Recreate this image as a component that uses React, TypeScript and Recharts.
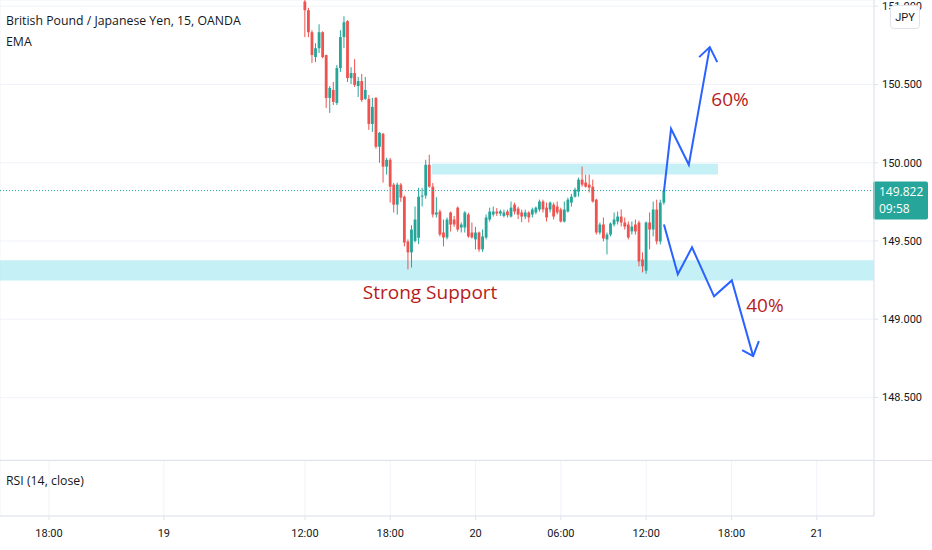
import {
  ComposedChart,
  Bar,
  Line,
  XAxis,
  YAxis,
  CartesianGrid,
  ReferenceArea,
  ReferenceLine,
  ReferenceDot,
} from "recharts";

// 15 min candles of GBP/JPY, index 0 = 19th 12:00
const opens = [
  151.03, 150.975, 150.834, 150.675, 150.732, 150.834, 150.688, 150.414, 150.465, 150.382,
  150.605, 150.803, 150.905, 150.541, 150.573, 150.49, 150.522, 150.408, 150.408, 150.248,
  150.414, 150.102, 150.185, 149.975, 150.019, 149.86, 149.732, 149.86, 149.783, 149.497,
  149.427, 149.5, 149.52, 149.783, 149.79, 149.987, 149.847, 149.669, 149.688, 149.554,
  149.522, 149.682, 149.637, 149.713, 149.586, 149.586, 149.669, 149.554, 149.51, 149.554,
  149.446, 149.522, 149.637, 149.669, 149.688, 149.675, 149.66, 149.688, 149.656, 149.732,
  149.707, 149.682, 149.656, 149.682, 149.669, 149.682, 149.701, 149.752, 149.713, 149.701,
  149.732, 149.72, 149.701, 149.624, 149.688, 149.745, 149.783, 149.815, 149.892, 149.873,
  149.86, 149.847, 149.764, 149.554, 149.605, 149.51, 149.541, 149.605, 149.624, 149.656,
  149.618, 149.605, 149.561, 149.605, 149.618, 149.382, 149.31, 149.618, 149.573, 149.701,
  149.497, 149.745,
];
const highs = [
  151.06, 150.99, 150.847, 150.764, 150.885, 150.84, 150.69, 150.49, 150.516, 150.624,
  150.847, 150.936, 150.911, 150.611, 150.662, 150.548, 150.567, 150.548, 150.433, 150.414,
  150.42, 150.197, 150.19, 150.032, 150.03, 149.87, 149.873, 149.87, 149.79, 149.51,
  149.6, 149.72, 149.84, 149.84, 150.019, 150.051, 149.87, 149.78, 149.7, 149.637,
  149.65, 149.688, 149.66, 149.72, 149.618, 149.69, 149.68, 149.618, 149.59, 149.56,
  149.573, 149.669, 149.713, 149.72, 149.71, 149.7, 149.7, 149.7, 149.752, 149.745,
  149.72, 149.7, 149.7, 149.69, 149.713, 149.72, 149.764, 149.764, 149.745, 149.752,
  149.745, 149.752, 149.713, 149.752, 149.777, 149.8, 149.841, 149.905, 149.975, 149.924,
  149.924, 149.892, 149.77, 149.618, 149.65, 149.554, 149.618, 149.682, 149.688, 149.701,
  149.65, 149.624, 149.624, 149.637, 149.63, 149.427, 149.624, 149.682, 149.752, 149.764,
  149.764, 149.828,
];
const lows = [
  150.803, 150.803, 150.637, 150.643, 150.701, 150.668, 150.35, 150.318, 150.369, 150.369,
  150.58, 150.732, 150.516, 150.503, 150.484, 150.42, 150.389, 150.401, 150.21, 150.197,
  150.09, 150.0, 149.873, 149.924, 149.745, 149.682, 149.669, 149.75, 149.465, 149.318,
  149.33, 149.49, 149.48, 149.72, 149.77, 149.84, 149.65, 149.65, 149.529, 149.465,
  149.51, 149.56, 149.59, 149.56, 149.554, 149.554, 149.52, 149.516, 149.446, 149.43,
  149.43, 149.51, 149.624, 149.656, 149.66, 149.66, 149.65, 149.65, 149.65, 149.669,
  149.64, 149.62, 149.64, 149.618, 149.65, 149.67, 149.688, 149.682, 149.624, 149.682,
  149.637, 149.669, 149.618, 149.618, 149.682, 149.72, 149.777, 149.783, 149.847, 149.841,
  149.81, 149.745, 149.541, 149.541, 149.497, 149.414, 149.529, 149.592, 149.605, 149.592,
  149.573, 149.51, 149.541, 149.541, 149.338, 149.299, 149.29, 149.446, 149.529, 149.478,
  149.478, 149.732,
];
const closes = [
  150.975, 150.834, 150.688, 150.732, 150.834, 150.675, 150.414, 150.478, 150.389, 150.605,
  150.803, 150.898, 150.541, 150.573, 150.497, 150.522, 150.401, 150.465, 150.248, 150.357,
  150.102, 150.191, 149.975, 150.019, 149.847, 149.732, 149.86, 149.777, 149.49, 149.427,
  149.573, 149.637, 149.783, 149.79, 149.987, 149.847, 149.669, 149.682, 149.541, 149.522,
  149.637, 149.605, 149.605, 149.573, 149.605, 149.682, 149.529, 149.522, 149.554, 149.446,
  149.529, 149.65, 149.688, 149.688, 149.675, 149.69, 149.682, 149.665, 149.713, 149.688,
  149.669, 149.656, 149.682, 149.65, 149.701, 149.713, 149.752, 149.701, 149.65, 149.745,
  149.656, 149.682, 149.624, 149.701, 149.764, 149.783, 149.828, 149.892, 149.86, 149.847,
  149.841, 149.752, 149.554, 149.605, 149.516, 149.541, 149.611, 149.637, 149.656, 149.618,
  149.592, 149.522, 149.592, 149.561, 149.369, 149.338, 149.618, 149.573, 149.701, 149.497,
  149.745, 149.822,
];

const lastPrice = 149.822;
const countdown = "09:58";

// time axis (bar index units)
const timeTicks = [-72, -39.7, 0, 24, 48, 72, 96, 120, 144];
const timeLabels = ["18:00", "19", "12:00", "18:00", "20", "06:00", "12:00", "18:00", "21"];
const priceTicks = [148.5, 149, 149.5, 150, 150.5, 151];

// drawings (bar index, price)
const upArrow = [
  { i: 101.0, p: 149.815 },
  { i: 103.0, p: 150.217 },
  { i: 108.0, p: 149.987 },
  { i: 113.9, p: 150.739 },
];
const upHead = [
  { i: 110.9, p: 150.675 },
  { i: 113.9, p: 150.739 },
  { i: 116.0, p: 150.643 },
];
const downArrow = [
  { i: 101.0, p: 149.605 },
  { i: 104.9, p: 149.287 },
  { i: 108.9, p: 149.459 },
  { i: 115.1, p: 149.146 },
  { i: 120.1, p: 149.248 },
  { i: 126.1, p: 148.764 },
];
const downHead = [
  { i: 123.0, p: 148.803 },
  { i: 126.1, p: 148.764 },
  { i: 127.7, p: 148.86 },
];
const resistanceZone = { x1: 35.7, x2: 116.2, y1: 149.924, y2: 149.994 };
const supportZone = { y1: 149.248, y2: 149.376 };

const UP = "#26a69a";
const DOWN = "#ef5350";
const GRID = "#f0f3fa";
const BORDER = "#e0e3eb";
const TEXT = "#131722";
const NOTE = "#b71c1c";
const BLUE = "#2962ff";
const ZONE = "#b2ebf2";
const X_DOMAIN: [number, number] = [-85.8, 160.1];

const candles = opens.map((o, i) => ({
  i,
  o,
  h: highs[i],
  l: lows[i],
  c: closes[i],
  range: [lows[i], highs[i]],
}));

function Candle(props: any) {
  const { x, y, width, height, payload } = props;
  if (!payload) return null;
  const { o, h, l, c } = payload;
  const color = c >= o ? UP : DOWN;
  const top = Math.min(y, y + height);
  const span = Math.abs(height);
  const toY = (v: number) => top + ((h - v) / (h - l || 1)) * span;
  const cx = x + width / 2;
  const bTop = toY(Math.max(o, c));
  const bBot = toY(Math.min(o, c));
  return (
    <g>
      <line x1={cx} x2={cx} y1={top} y2={top + span} stroke={color} strokeWidth={1} />
      <rect x={cx - 1.4} y={bTop} width={2.8} height={Math.max(bBot - bTop, 1)} fill={color} />
    </g>
  );
}

function PriceTag(props: any) {
  const vb = props.viewBox;
  if (!vb) return null;
  const x = vb.x + vb.width - 1;
  const y = vb.y;
  return (
    <g>
      <rect x={x} y={y - 9} width={55} height={38} rx={2} fill={UP} />
      <text x={x + 6} y={y + 5} fill="#fff" fontSize={12}>
        {lastPrice.toFixed(3)}
      </text>
      <text x={x + 6} y={y + 22} fill="#fff" fontSize={12}>
        {countdown}
      </text>
    </g>
  );
}

const tickStyle = { fill: TEXT, fontSize: 11, fontFamily: "Roboto, sans-serif" };
const fmtTime = (v: number) => timeLabels[timeTicks.indexOf(v)] ?? "";
const noteLabel = (value: string) => ({
  value,
  position: "center" as const,
  fill: NOTE,
  fontSize: 19,
  fontWeight: 500,
});

export default function App() {
  const drawings = [upArrow, upHead, downArrow, downHead];
  return (
    <div
      style={{
        position: "absolute",
        left: 0,
        top: 0,
        width: 932,
        height: 550,
        background: "#fff",
        overflow: "hidden",
        fontFamily: "'Open Sans', sans-serif",
      }}
    >
      <ComposedChart width={932} height={460} data={candles} margin={{ top: 0, right: 0, left: 0, bottom: 0 }}>
        <CartesianGrid stroke={GRID} />
        <XAxis
          dataKey="i"
          type="number"
          domain={X_DOMAIN}
          ticks={timeTicks}
          allowDataOverflow
          height={0}
          tick={false}
          axisLine={false}
          tickLine={false}
        />
        <YAxis
          orientation="right"
          width={58}
          domain={[148.1, 151.04]}
          ticks={priceTicks}
          allowDataOverflow
          tickFormatter={(v: number) => v.toFixed(3)}
          tick={tickStyle}
          tickSize={4}
          tickMargin={4}
          stroke={BORDER}
        />
        <ReferenceArea y1={supportZone.y1} y2={supportZone.y2} fill={ZONE} fillOpacity={0.75} stroke="none" />
        <ReferenceArea {...resistanceZone} fill={ZONE} fillOpacity={0.75} stroke="none" />
        <ReferenceLine y={lastPrice} stroke={UP} strokeDasharray="1 2" label={<PriceTag />} />
        <Bar dataKey="range" barSize={3} shape={<Candle />} activeBar={false} isAnimationActive={false} />
        {drawings.map((d, k) => (
          <Line
            key={k}
            data={d}
            dataKey="p"
            type="linear"
            stroke={BLUE}
            strokeWidth={2}
            dot={false}
            activeDot={false}
            isAnimationActive={false}
          />
        ))}
        <ReferenceDot x={35.2} y={149.172} r={0} label={noteLabel("Strong Support")} />
        <ReferenceDot x={119.6} y={150.408} r={0} label={noteLabel("60%")} />
        <ReferenceDot x={129.4} y={149.089} r={0} label={noteLabel("40%")} />
      </ComposedChart>

      <ComposedChart width={932} height={90} data={candles} margin={{ top: 0, right: 0, left: 0, bottom: 0 }}>
        <CartesianGrid stroke={GRID} />
        <XAxis
          dataKey="i"
          type="number"
          domain={X_DOMAIN}
          ticks={timeTicks}
          allowDataOverflow
          height={34}
          tickFormatter={fmtTime}
          tick={tickStyle}
          tickSize={4}
          tickMargin={9}
          stroke={BORDER}
        />
        <YAxis
          orientation="right"
          width={58}
          domain={[20, 60]}
          ticks={[40]}
          tickFormatter={(v: number) => v.toFixed(2)}
          tick={tickStyle}
          tickSize={4}
          tickMargin={4}
          stroke={BORDER}
        />
      </ComposedChart>

      <div style={{ position: "absolute", left: 0, top: 460, width: 932, height: 1, background: BORDER }} />
      <div style={{ position: "absolute", left: 6, top: 10, fontSize: 12.3, color: TEXT, lineHeight: "21px" }}>
        British Pound / Japanese Yen, 15, OANDA
        <br />
        EMA
      </div>
      <div style={{ position: "absolute", left: 6, top: 472, fontSize: 12.3, color: TEXT }}>RSI (14, close)</div>
      <div
        style={{
          position: "absolute",
          left: 890,
          top: 5,
          width: 30,
          height: 24,
          border: `1px solid ${BORDER}`,
          borderRadius: 4,
          background: "#fff",
          fontSize: 11,
          fontFamily: "Roboto, sans-serif",
          color: TEXT,
          textAlign: "center",
          lineHeight: "24px",
          boxSizing: "border-box",
        }}
      >
        JPY
      </div>
    </div>
  );
}
